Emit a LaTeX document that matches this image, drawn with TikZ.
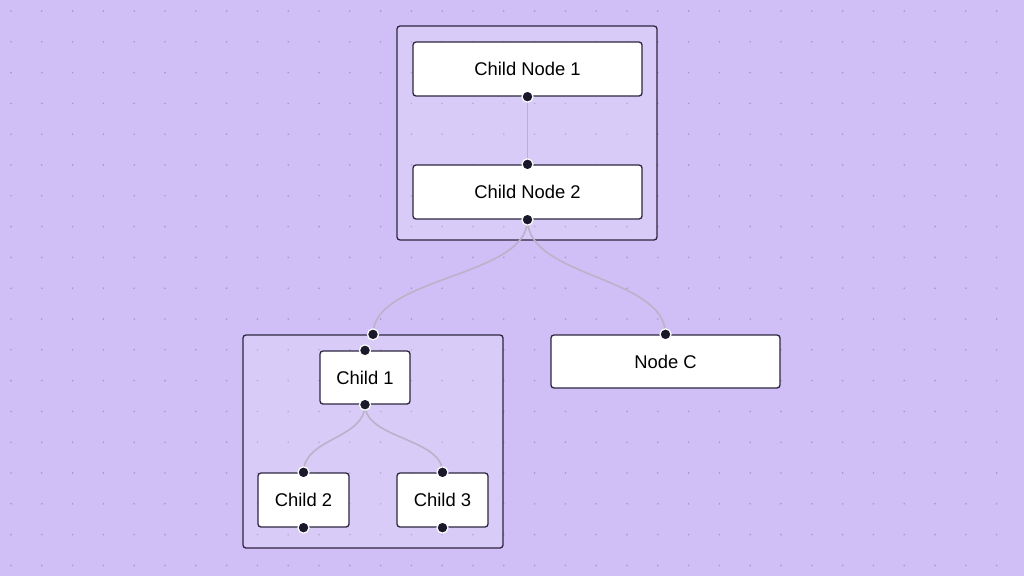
\documentclass[tikz,border=0pt]{standalone}
\usepackage{fontspec}
\setmainfont{Liberation Sans}
\definecolor{bgc}{RGB}{208,191,246}
\definecolor{dotc}{RGB}{165,150,200}
\definecolor{bordc}{RGB}{45,38,64}
\definecolor{edgec}{RGB}{186,178,200}
\definecolor{handc}{RGB}{26,25,43}
\tikzset{
  nodebox/.style={draw=bordc, line width=1.3pt, fill=white, rounded corners=3pt, inner sep=0pt, font=\fontsize{18.4}{22}\selectfont},
  groupbox/.style={draw=bordc, line width=1.3pt, fill=white, fill opacity=0.2, draw opacity=1, rounded corners=3pt, inner sep=0pt},
  edgeline/.style={draw=edgec, line width=1.6pt},
  handle/.style={circle, fill=handc, draw=white, line width=1.2pt, minimum size=11pt, inner sep=0pt}
}
\begin{document}
\begin{tikzpicture}[x=1pt, y=-1pt]
\fill[bgc] (0,0) rectangle (1024,576);
\useasboundingbox (0,0) rectangle (1024,576);
\foreach \i in {0,...,32} {
  \foreach \j in {0,...,18} {
    \fill[dotc] (11+\i*30.8, 11+\j*30.8) circle (0.9pt);
  }
}
% groups
\node[groupbox, minimum width=260pt, minimum height=214pt] (g1) at (527,133) {};
\node[groupbox, minimum width=260pt, minimum height=213pt] (g2) at (373,441.5) {};
% nodes
\node[nodebox, minimum width=229pt, minimum height=54pt] (cn1) at (527.5,69) {Child Node 1};
\node[nodebox, minimum width=229pt, minimum height=54pt] (cn2) at (527.5,192) {Child Node 2};
\node[nodebox, minimum width=229pt, minimum height=53pt] (nc) at (665.5,361.5) {Node C};
\node[nodebox, minimum width=90pt, minimum height=53pt] (c1) at (365,377.5) {Child 1};
\node[nodebox, minimum width=91pt, minimum height=54pt] (c2) at (303.5,500) {Child 2};
\node[nodebox, minimum width=91pt, minimum height=54pt] (c3) at (442.5,500) {Child 3};
% edges
\draw[edgeline] (cn1.south) -- (cn2.north);
\draw[edgeline] (cn2.south) .. controls +(0,58) and +(0,-58) .. (g2.north);
\draw[edgeline] (cn2.south) .. controls +(0,58) and +(0,-58) .. (nc.north);
\draw[edgeline] (c1.south) .. controls +(0,34.5) and +(0,-34.5) .. (c2.north);
\draw[edgeline] (c1.south) .. controls +(0,34.5) and +(0,-34.5) .. (c3.north);
% handles
\node[handle] (h1) at (cn1.south) {};
\node[handle] (h2) at (cn2.north) {};
\node[handle] (h3) at (cn2.south) {};
\node[handle] (h4) at (g2.north) {};
\node[handle] (h5) at (nc.north) {};
\node[handle] (h6) at (c1.north) {};
\node[handle] (h7) at (c1.south) {};
\node[handle] (h8) at (c2.north) {};
\node[handle] (h9) at (c2.south) {};
\node[handle] (h10) at (c3.north) {};
\node[handle] (h11) at (c3.south) {};
\end{tikzpicture}
\end{document}
